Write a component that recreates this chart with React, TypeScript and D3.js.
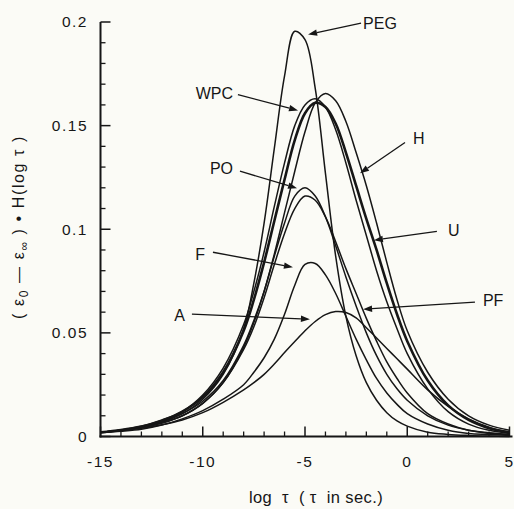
import React from 'react';
import * as d3 from 'd3';

// log tau grid (shared by every curve)
const logTau = [-15, -14, -13, -12, -11, -10, -9, -8, -7.5, -7, -6.5, -6, -5.5, -5, -4.5, -4, -3.5, -3, -2.5, -2, -1.5, -1, -0.5, 0, 1, 2, 3, 4, 5];

const PEG = [0.002, 0.003, 0.0045, 0.007, 0.011, 0.018, 0.030, 0.052, 0.074, 0.103, 0.139, 0.174, 0.1955, 0.1915, 0.168, 0.127, 0.087, 0.058, 0.039, 0.026, 0.0175, 0.0115, 0.0075, 0.005, 0.002, 0.001, 0.0005, 0.0002, 0];
const H = [0.002, 0.003, 0.0043, 0.0065, 0.010, 0.016, 0.026, 0.043, 0.055, 0.070, 0.088, 0.108, 0.128, 0.147, 0.161, 0.1655, 0.162, 0.152, 0.137, 0.121, 0.103, 0.084, 0.066, 0.051, 0.031, 0.018, 0.010, 0.0055, 0.003];
const WPC = [0.002, 0.0032, 0.005, 0.008, 0.012, 0.020, 0.033, 0.054, 0.070, 0.089, 0.111, 0.132, 0.150, 0.160, 0.163, 0.159, 0.148, 0.132, 0.114, 0.097, 0.080, 0.065, 0.052, 0.040, 0.023, 0.012, 0.006, 0.003, 0.0015];
const U = [0.002, 0.0031, 0.0048, 0.0075, 0.012, 0.019, 0.031, 0.051, 0.066, 0.084, 0.104, 0.124, 0.143, 0.156, 0.161, 0.159, 0.151, 0.137, 0.121, 0.105, 0.090, 0.074, 0.059, 0.046, 0.027, 0.015, 0.008, 0.004, 0.002];
const PO = [0.002, 0.003, 0.0045, 0.007, 0.011, 0.017, 0.027, 0.044, 0.056, 0.070, 0.087, 0.103, 0.116, 0.120, 0.116, 0.106, 0.092, 0.077, 0.063, 0.050, 0.039, 0.030, 0.023, 0.0175, 0.010, 0.0055, 0.003, 0.0015, 0.001];
const PF = [0.002, 0.003, 0.0043, 0.0065, 0.010, 0.016, 0.026, 0.042, 0.053, 0.067, 0.083, 0.098, 0.110, 0.116, 0.114, 0.106, 0.094, 0.081, 0.069, 0.057, 0.046, 0.036, 0.028, 0.021, 0.011, 0.006, 0.003, 0.0018, 0.001];
const F = [0.0018, 0.0025, 0.0035, 0.0055, 0.0085, 0.0125, 0.018, 0.025, 0.031, 0.038, 0.047, 0.059, 0.073, 0.083, 0.0835, 0.078, 0.069, 0.058, 0.047, 0.037, 0.028, 0.021, 0.0155, 0.011, 0.006, 0.003, 0.0015, 0.001, 0.0005];
const A = [0.002, 0.003, 0.004, 0.0057, 0.008, 0.0115, 0.0165, 0.0225, 0.026, 0.030, 0.035, 0.0405, 0.0458, 0.051, 0.0555, 0.0588, 0.0603, 0.0598, 0.0572, 0.0525, 0.0475, 0.0425, 0.0375, 0.0325, 0.0225, 0.0145, 0.0085, 0.0045, 0.002];

const seriesNames = ['PEG', 'H', 'WPC', 'U', 'PO', 'PF', 'F', 'A'];
const seriesValues = [PEG, H, WPC, U, PO, PF, F, A];

const xMajorTicks = [-15, -10, -5, 0, 5];
const xTickLabels = ['-15', '-10', '-5', '0', '5'];
const yMajorTicks = [0, 0.05, 0.1, 0.15, 0.2];
const yTickLabels = ['0', '0.05', '0.1', '0.15', '0.2'];

// annotation labels: text anchor point, line start, arrow tip (data coordinates)
const annLabels = ['PEG', 'WPC', 'H', 'PO', 'U', 'F', 'A', 'PF'];
const annTextX = [-2.16, -8.52, 0.28, -8.52, 1.99, -9.89, -10.87, 3.7];
const annTextY = [0.1995, 0.1655, 0.1439, 0.1294, 0.0995, 0.088, 0.0586, 0.0658];
const annFromX = [-2.26, -8.28, -0.11, -8.18, 1.45, -9.5, -10.53, 3.31];
const annFromY = [0.1995, 0.165, 0.1419, 0.128, 0.099, 0.0889, 0.059, 0.0648];
const annTipX = [-4.85, -5.34, -2.31, -5.39, -1.63, -5.59, -4.76, -2.16];
const annTipY = [0.194, 0.1573, 0.127, 0.1198, 0.0947, 0.0817, 0.0566, 0.0614];

const W = 514;
const Hh = 509;

export default function App() {
  const x = d3.scaleLinear().domain([-15, 5]).range([100.5, 509.5]);
  const y = d3.scaleLinear().domain([0, 0.2]).range([436.5, 22]);
  const line = d3
    .line<number>()
    .x((_, i) => x(logTau[i]))
    .y((d) => y(d))
    .curve(d3.curveCatmullRom.alpha(0.5));

  const xMinor = d3.range(-15, 5.001, 1).filter((v) => !xMajorTicks.includes(v));
  const yMinor = d3
    .range(0, 0.2001, 0.01)
    .map((v) => +v.toFixed(3))
    .filter((v) => !yMajorTicks.some((m) => Math.abs(m - v) < 1e-6));
  const font = "Arial, 'Liberation Sans', Helvetica, sans-serif";
  const ink = '#161616';

  return (
    <svg width={W} height={Hh} style={{ position: 'absolute', left: 0, top: 0, background: '#fbfbf6' }}>
      <rect x={0} y={0} width={W} height={Hh} fill="#fbfbf6" />
      {/* curves */}
      {seriesValues.map((vals, i) => (
        <path
          key={seriesNames[i]}
          d={line(vals) || ''}
          fill="none"
          stroke={ink}
          strokeWidth={seriesNames[i] === 'U' ? 2.6 : 1.5}
          strokeLinejoin="round"
        />
      ))}
      {/* axes */}
      <line x1={x(-15)} x2={x(-15)} y1={y(0.2)} y2={y(0) + 1} stroke={ink} strokeWidth={2} />
      <line x1={x(-15) - 1} x2={x(5) + 3} y1={y(0)} y2={y(0)} stroke={ink} strokeWidth={2} />
      {yMajorTicks.map((v, i) => (
        <g key={'ym' + v}>
          <line x1={x(-15)} x2={x(-15) + 10} y1={y(v)} y2={y(v)} stroke={ink} strokeWidth={1.5} />
          <text x={88} y={y(v)} dy="0.35em" textAnchor="end" fontFamily={font} fontSize={15.5} letterSpacing={1.5} fill={ink}>
            {yTickLabels[i]}
          </text>
        </g>
      ))}
      {yMinor.map((v) => (
        <line key={'yn' + v} x1={x(-15)} x2={x(-15) + 5} y1={y(v)} y2={y(v)} stroke={ink} strokeWidth={1.3} />
      ))}
      {xMajorTicks.map((v, i) => (
        <g key={'xm' + v}>
          <line x1={x(v)} x2={x(v)} y1={y(0)} y2={y(0) - 10} stroke={ink} strokeWidth={1.5} />
          <text
            x={v === 5 ? 513 : x(v)}
            y={467}
            textAnchor={v === 5 ? 'end' : 'middle'}
            fontFamily={font}
            fontSize={15.5}
            letterSpacing={v === 5 ? 0 : 1.5}
            fill={ink}
          >
            {xTickLabels[i]}
          </text>
        </g>
      ))}
      {xMinor.map((v) => (
        <line key={'xn' + v} x1={x(v)} x2={x(v)} y1={y(0)} y2={y(0) - 5} stroke={ink} strokeWidth={1.3} />
      ))}
      {/* axis titles */}
      <text x={316} y={503} textAnchor="middle" fontFamily={font} fontSize={16.5} letterSpacing={0.4} fill={ink} xmlSpace="preserve">
        {'log  τ  ( τ  in sec.)'}
      </text>
      <text
        transform="translate(24,227) rotate(-90)"
        textAnchor="middle"
        fontFamily={font}
        fontSize={16}
        letterSpacing={1.6}
        fill={ink}
        xmlSpace="preserve"
      >
        <tspan>{'( ε'}</tspan>
        <tspan fontSize={12} dy={4}>0</tspan>
        <tspan dy={-4}>{' — ε'}</tspan>
        <tspan fontSize={12} dy={4}>∞</tspan>
        <tspan dy={-4}>{' ) • H(log τ )'}</tspan>
      </text>
      {/* annotations */}
      {annLabels.map((lab, i) => {
        const x0 = x(annFromX[i]);
        const y0 = y(annFromY[i]);
        const x1 = x(annTipX[i]);
        const y1 = y(annTipY[i]);
        const ang = Math.atan2(y1 - y0, x1 - x0);
        const L = 9;
        const hw = 3.2;
        const bx = x1 - L * Math.cos(ang);
        const by = y1 - L * Math.sin(ang);
        const px = -Math.sin(ang) * hw;
        const py = Math.cos(ang) * hw;
        const anchorEnd = annTextX[i] < annFromX[i];
        return (
          <g key={'ann' + lab}>
            <line x1={x0} y1={y0} x2={bx} y2={by} stroke={ink} strokeWidth={1.3} />
            <polygon points={`${x1},${y1} ${bx + px},${by + py} ${bx - px},${by - py}`} fill={ink} />
            <text
              x={x(annTextX[i])}
              y={y(annTextY[i])}
              dy="0.36em"
              textAnchor={anchorEnd ? 'end' : 'start'}
              fontFamily={font}
              fontSize={16}
              fill={ink}
            >
              {lab}
            </text>
          </g>
        );
      })}
    </svg>
  );
}
